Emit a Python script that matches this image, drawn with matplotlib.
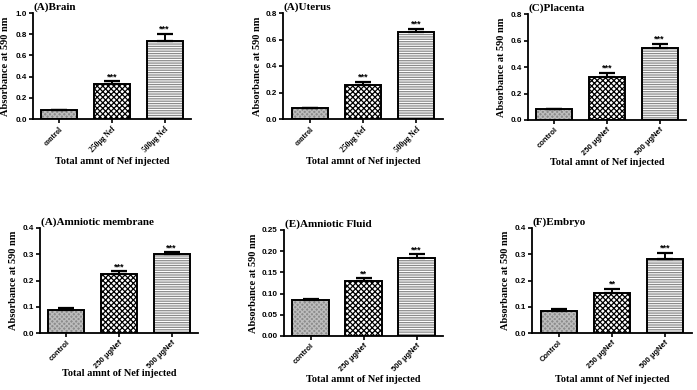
"""Six-panel bar chart: absorbance at 590 nm per tissue after Nef injection."""
import matplotlib
matplotlib.use("Agg")
import matplotlib.pyplot as plt
from matplotlib.ticker import MultipleLocator, FormatStrFormatter

plt.rcParams["hatch.linewidth"] = 0.9

# ---- data ----
titles = ["(A)Brain", "(A)Uterus", "(C)Placenta",
          "(A)Amniotic membrane", "(E)Amniotic Fluid", "(F)Embryo"]
labels = [
    ["control", "250\u03bcg Nef", "500\u03bcg Nef"],
    ["control", "250\u03bcg Nef", "500\u03bcg Nef"],
    ["control", "250 \u03bcgNef", "500 \u03bcgNef"],
    ["control", "250 \u03bcgNef", "500 \u03bcgNef"],
    ["control", "250 \u03bcgNef", "500 \u03bcgNef"],
    ["Control", "250 \u03bcgNef", "500 \u03bcgNef"],
]
means = [
    [0.085, 0.333, 0.737],
    [0.083, 0.257, 0.657],
    [0.080, 0.322, 0.546],
    [0.089, 0.225, 0.302],
    [0.085, 0.130, 0.185],
    [0.085, 0.151, 0.281],
]
errs = [
    [0.004, 0.022, 0.069],
    [0.003, 0.025, 0.022],
    [0.004, 0.035, 0.028],
    [0.005, 0.010, 0.005],
    [0.003, 0.006, 0.008],
    [0.005, 0.017, 0.024],
]
stars = [
    ["", "***", "***"],
    ["", "***", "***"],
    ["", "***", "***"],
    ["", "***", "***"],
    ["", "**", "***"],
    ["", "**", "***"],
]
ymax = [1.0, 0.8, 0.8, 0.4, 0.25, 0.4]
ystep = [0.2, 0.2, 0.2, 0.1, 0.05, 0.1]
yfmt = ["%.1f", "%.1f", "%.1f", "%.1f", "%.2f", "%.1f"]

# axes boxes in pixels: left, right, top, bottom
boxes = [(33, 191, 13, 119), (283, 443, 13, 119), (528, 686, 14, 120),
         (40, 198, 228, 333), (284, 443, 230, 336), (532, 692, 228, 333)]
# label offsets in pixels: y-label left of axis, x-label below axis
ylab_dx = [27, 25, 26, 26, 30, 26]
xlab_dy = [43, 43, 43, 40, 44, 47]

# bar styles: face, hatch, hatch colour
styles = [("#8c8c8c", "xxxxxxx", "#bdbdbd"),
          ("white", "xxxxxx", "black"),
          ("white", "-------", "#8a8a8a")]

W, H = 697, 390
fig = plt.figure(figsize=(W / 100, H / 100), dpi=100)
serif = "Liberation Serif"
sans = "Liberation Sans"

for i in range(6):
    l, r, t, b = boxes[i]
    aw, ah = r - l, b - t
    ax = fig.add_axes([l / W, 1 - b / H, aw / W, ah / H])
    x = range(3)
    for j in x:
        face, hatch, hc = styles[j]
        ax.bar(j, means[i][j], width=0.68, color=face, hatch=hatch,
               edgecolor=hc, linewidth=0, zorder=2)
        ax.bar(j, means[i][j], width=0.68, fill=False, edgecolor="black",
               linewidth=1.4, zorder=3)
    ax.errorbar(list(x), means[i], yerr=[[0, 0, 0], errs[i]], fmt="none",
                ecolor="black", elinewidth=1.4, capsize=6, capthick=1.6,
                zorder=4)
    for j in x:
        if stars[i][j]:
            ax.text(j, means[i][j] + errs[i][j], stars[i][j], ha="center",
                    va="bottom", fontsize=6.5, family=sans, fontweight="bold")

    ax.set_xlim(-0.5, 2.5)
    ax.set_ylim(0, ymax[i])
    ax.yaxis.set_major_locator(MultipleLocator(ystep[i]))
    ax.yaxis.set_major_formatter(FormatStrFormatter(yfmt[i]))
    ax.set_xticks(list(x))
    lab_family = serif if i < 2 else sans
    ax.set_xticklabels(labels[i], rotation=45, ha="right",
                       rotation_mode="anchor", fontsize=5.5,
                       family=lab_family, fontweight="bold")
    for tl in ax.get_yticklabels():
        tl.set_family(sans)
        tl.set_fontweight("bold")
        tl.set_fontsize(5.8)
    ax.tick_params(axis="both", length=3, width=1.2, pad=1.5)
    for side in ("top", "right"):
        ax.spines[side].set_visible(False)
    for side in ("left", "bottom"):
        ax.spines[side].set_linewidth(1.3)
    ax.set_ylabel("Absorbance at 590 nm", family=serif, fontweight="bold",
                  fontsize=7.5, va="center")
    ax.yaxis.set_label_coords(-ylab_dx[i] / aw, 0.5)
    ax.set_xlabel("Total amnt of Nef injected", family=serif,
                  fontweight="bold", fontsize=7.4, va="center")
    ax.xaxis.set_label_coords(0.5, -xlab_dy[i] / ah)
    ax.text(0.005, 1 + 6 / ah, titles[i], transform=ax.transAxes, ha="left",
            va="center", family=serif, fontweight="bold", fontsize=8)

fig.savefig("out.png", dpi=100)
